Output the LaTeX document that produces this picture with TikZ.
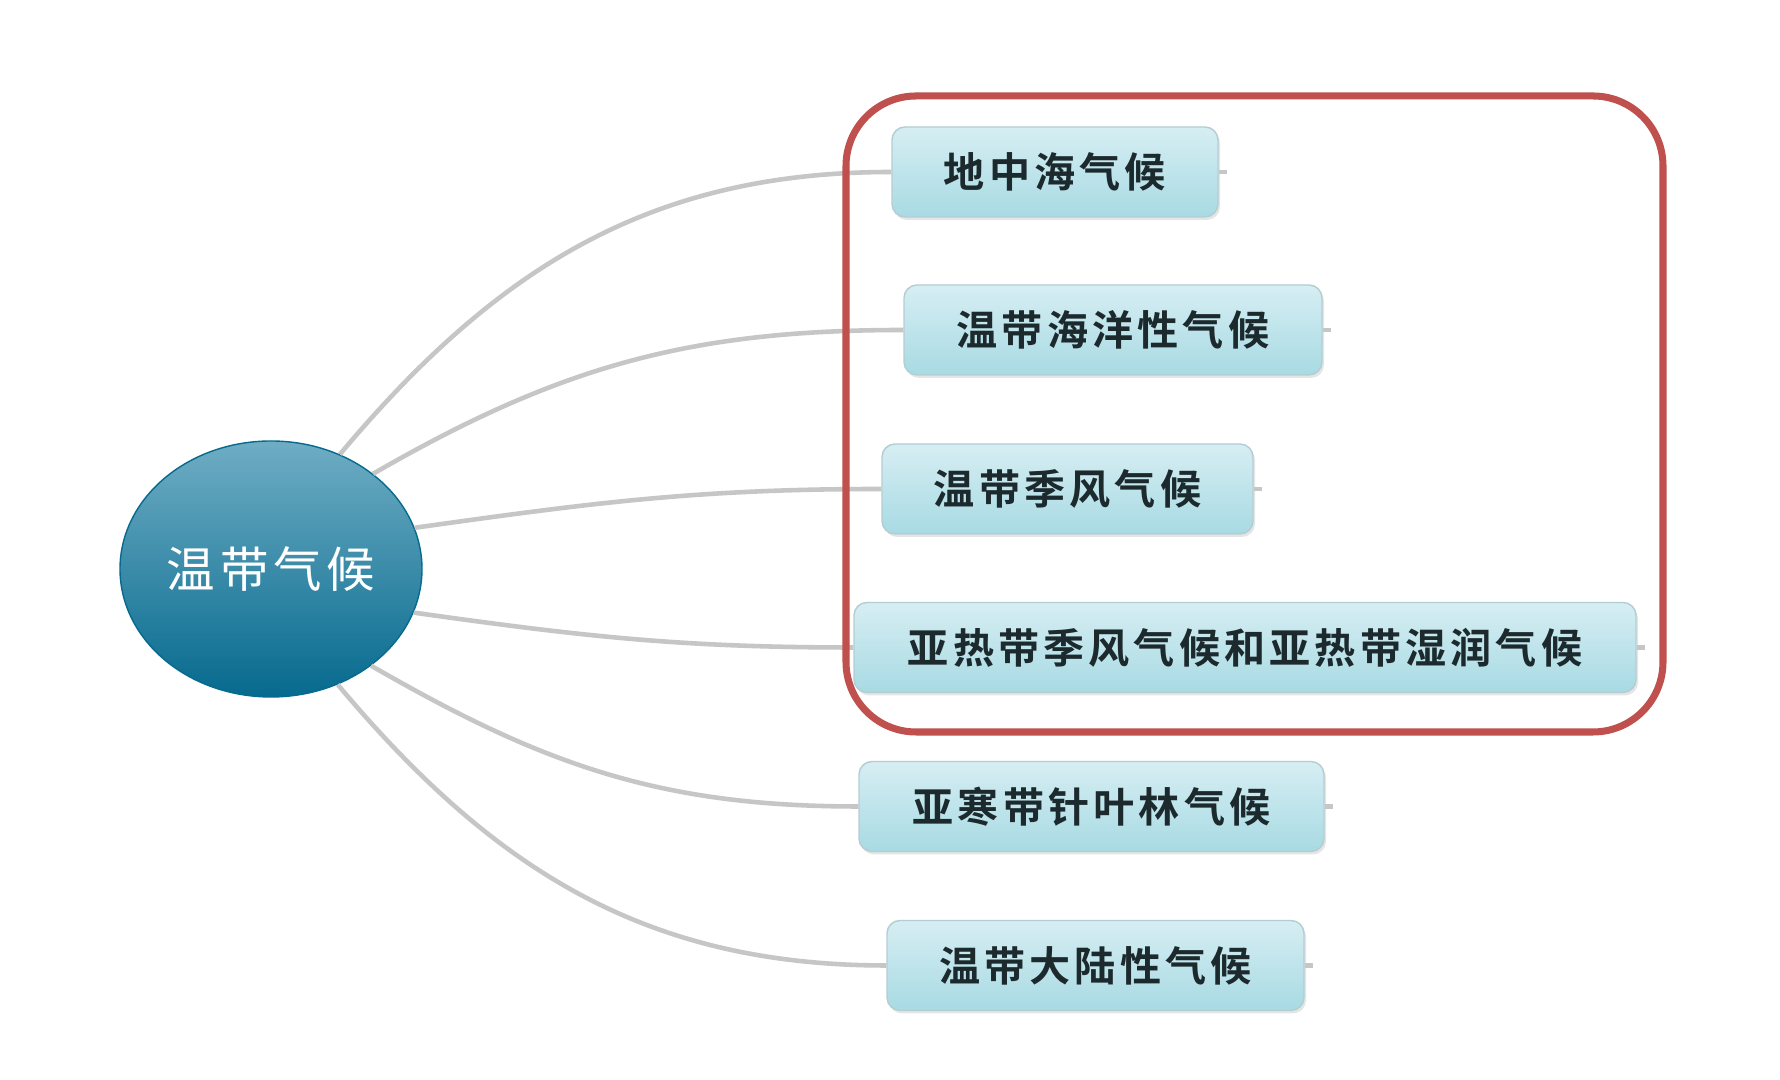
\documentclass[tikz,border=0pt]{standalone}
\usepackage{fontspec}
\newfontfamily\cjk[LetterSpace=10,BoldFont={* Bold}]{Noto Sans CJK SC}
\usetikzlibrary{shapes.geometric,shadows}
\definecolor{linkgray}{HTML}{C6C6C6}
\definecolor{boxtop}{HTML}{D6EEF3}
\definecolor{boxbot}{HTML}{A8DAE3}
\definecolor{boxedge}{HTML}{B4CDD2}
\definecolor{boxtext}{HTML}{1C2A2E}
\definecolor{hubtop}{HTML}{6FADC4}
\definecolor{hubmid}{HTML}{0D7297}
\definecolor{hubbot}{HTML}{066A8E}
\definecolor{framered}{HTML}{C0504D}

\begin{document}
\begin{tikzpicture}[
  zone/.style={draw=boxedge, rounded corners=0.13cm, top color=boxtop, bottom color=boxbot,
    minimum height=0.9cm, inner sep=0pt, text=boxtext,
    font=\cjk\bfseries\fontsize{11.7}{14}\selectfont,
    drop shadow={shadow xshift=0.02cm, shadow yshift=-0.03cm, fill=gray!40, opacity=0.5}},
  hub/.style={ellipse, draw=hubbot, minimum width=3.02cm, minimum height=2.56cm, inner sep=0pt,
    top color=hubtop, middle color=hubmid, bottom color=hubbot, text=white,
    font=\cjk\fontsize{13.8}{16}\selectfont},
  link/.style={draw=linkgray, line width=1.3pt},
  frame/.style={draw=framered, line width=2pt, rounded corners=0.7cm}
]
  \fill[white] (0,0) rectangle (17.8,10.8);
  \useasboundingbox (0,0) rectangle (17.8,10.8);

  % centre
  \node[hub] (temperate) at (2.71,5.11) {温带气候};

  % climate types
  \node[zone, minimum width=3.26cm] (med)     at (10.55,9.08)  {地中海气候};
  \node[zone, minimum width=4.18cm] (ocean)   at (11.13,7.50)  {温带海洋性气候};
  \node[zone, minimum width=3.71cm] (monsoon) at (10.675,5.91) {温带季风气候};
  \node[zone, minimum width=7.82cm] (subtrop) at (12.45,4.325) {亚热带季风气候和亚热带湿润气候};
  \node[zone, minimum width=4.65cm] (taiga)   at (10.915,2.735){亚寒带针叶林气候};
  \node[zone, minimum width=4.17cm] (contin)  at (10.955,1.145){温带大陆性气候};

  % branches
  \draw[link] (temperate.59)  to[out=50,in=180]  (med.west);
  \draw[link] (temperate.43)  to[out=30,in=180]  (ocean.west);
  \draw[link] (temperate.16)  to[out=8,in=180]   (monsoon.west);
  \draw[link] (temperate.-17) to[out=-8,in=180]  (subtrop.west);
  \draw[link] (temperate.-44) to[out=-30,in=180] (taiga.west);
  \draw[link] (temperate.-60) to[out=-50,in=180] (contin.west);

  % short stubs on the right
  \draw[link] (med.east)     -- ++(0.08,0);
  \draw[link] (ocean.east)   -- ++(0.08,0);
  \draw[link] (monsoon.east) -- ++(0.08,0);
  \draw[link] (subtrop.east) -- ++(0.08,0);
  \draw[link] (taiga.east)   -- ++(0.08,0);
  \draw[link] (contin.east)  -- ++(0.08,0);

  % highlight
  \draw[frame] (8.46,3.48) rectangle (16.63,9.84);
\end{tikzpicture}
\end{document}
